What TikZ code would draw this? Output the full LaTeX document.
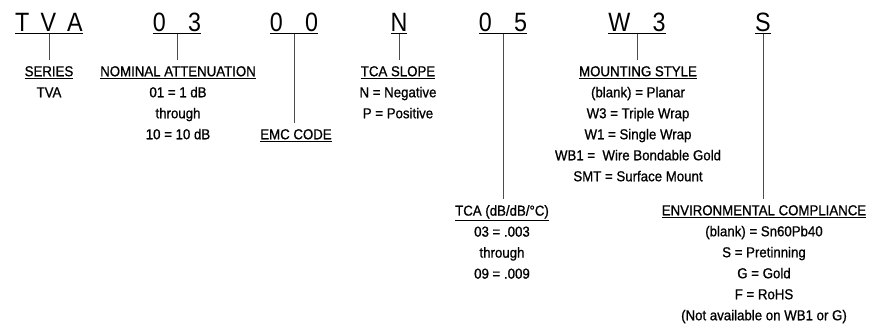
\documentclass[tikz,border=0pt]{standalone}
\usepackage{fontspec}
\setmainfont{Liberation Sans}[FakeStretch=0.88]
\newfontfamily\fieldfont{Liberation Sans}[FakeStretch=0.92, FakeBold=0.9]
\usetikzlibrary{positioning}
\newcommand{\sep}{\hspace{0.42em}}

\begin{document}
\begin{tikzpicture}[x=1pt, y=-1pt,
    code/.style={inner sep=0pt, anchor=base, font=\fontsize{26.5}{30}\selectfont},
    field/.style={inner sep=0pt, anchor=north, align=center, font=\fieldfont\fontsize{14.4}{21}\selectfont},
    lead/.style={draw=black!70, line width=1pt, shorten >=6pt}
  ]
  \useasboundingbox (0,0) rectangle (879,326);
  % part number
  \node[code] (tva) at (49,32) {\underline{T\sep V\sep A}};
  \node[code] (atten) at (177,32) {\underline{0\sep\sep 3}};
  \node[code] (emc) at (294,32) {\underline{0\sep\sep 0}};
  \node[code] (slope) at (399,32) {\underline{N}};
  \node[code] (tca) at (503,32) {\underline{0\sep\sep 5}};
  \node[code] (mount) at (637,32) {\underline{W\sep\sep 3}};
  \node[code] (env) at (763,32) {\underline{S}};

  % fields
  \node[field] (seriesf) at (49,66) {\underline{SERIES}\\TVA};
  \node[field] (attenf) at (178,66) {\underline{NOMINAL ATTENUATION}\\01 = 1 dB\\through\\10 = 10 dB};
  \node[field] (emcf) at (296,129) {\underline{EMC CODE}};
  \node[field] (slopef) at (398,66) {\underline{TCA SLOPE}\\N = Negative\\P = Positive};
  \node[field] (tcaf) at (502,205) {\underline{TCA (dB/dB/\textdegree C)}\\03 = .003\\through\\09 = .009};
  \node[field] (mountf) at (638,66) {\underline{MOUNTING STYLE}\\(blank) = Planar\\W3 = Triple Wrap\\W1 = Single Wrap\\WB1 =\ \ Wire Bondable Gold\\SMT = Surface Mount};
  \node[field] (envf) at (764,205) {\underline{ENVIRONMENTAL COMPLIANCE}\\(blank) = Sn60Pb40\\S = Pretinning\\G = Gold\\F = RoHS\\(Not available on WB1 or G)};

  % leaders
  \draw[lead] (tva.south) -- (tva.south |- seriesf.north);
  \draw[lead] (atten.south) -- (atten.south |- attenf.north);
  \draw[lead] (emc.south) -- (emc.south |- emcf.north);
  \draw[lead] (slope.south) -- (slope.south |- slopef.north);
  \draw[lead] (tca.south) -- (tca.south |- tcaf.north);
  \draw[lead] (mount.south) -- (mount.south |- mountf.north);
  \draw[lead] (env.south) -- (env.south |- envf.north);
\end{tikzpicture}
\end{document}
